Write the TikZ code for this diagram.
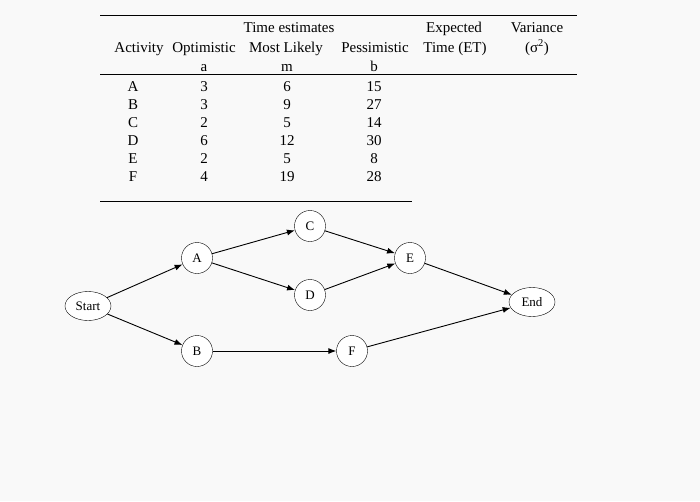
\documentclass[tikz,border=0pt]{standalone}
\usepackage{fontspec}
\setmainfont{Liberation Serif}
\usetikzlibrary{arrows.meta,shapes.geometric}
\begin{document}
\begin{tikzpicture}[x=1pt,y=-1pt,font=\fontsize{15}{17}\selectfont,
  t/.style={anchor=base,inner sep=0pt},
  circ/.style={circle,draw,fill=white,minimum size=31pt,inner sep=0pt,font=\fontsize{13}{15}\selectfont},
  ell/.style={ellipse,draw,fill=white,minimum width=46pt,minimum height=29pt,inner sep=1pt,font=\fontsize{13}{15}\selectfont},
  arr/.style={-{Latex[length=8pt,width=6pt]},line width=0.9pt},
  rule/.style={line width=0.8pt}]
\fill[white!95!gray] (0,0) rectangle (700,501);
\useasboundingbox (0,0) rectangle (700,501);
\draw[rule] (100,15) -- (577,15);
\draw[rule] (100,74) -- (577,74);
\draw[rule] (100,201) -- (412,201);
\node[t] (h1) at (289,32) {Time estimates};
\node[t] (h2) at (454,32) {Expected};
\node[t] (h3) at (537,32) {Variance};
\node[t] (h4) at (139,52) {Activity};
\node[t] (h5) at (204,52) {Optimistic};
\node[t] (h6) at (286,52) {Most Likely};
\node[t] (h7) at (375,52) {Pessimistic};
\node[t] (h8) at (455,52) {Time (ET)};
\node[t] (h9) at (537,52) {(σ\textsuperscript{2})};
\node[t] (sa) at (204,71) {a};
\node[t] (sm) at (287,71) {m};
\node[t] (sb) at (374,71) {b};
\foreach \n/\a/\m/\b [count=\i] in {A/3/6/15,B/3/9/27,C/2/5/14,D/6/12/30,E/2/5/8,F/4/19/28}{
  \node[t] (r\i) at (133,73+18*\i) {\n};
  \node[t] (ra\i) at (204,73+18*\i) {\a};
  \node[t] (rm\i) at (287,73+18*\i) {\m};
  \node[t] (rb\i) at (374,73+18*\i) {\b};
}
\node[ell] (S) at (88,306) {Start};
\node[circ] (A) at (197,258) {A};
\node[circ] (B) at (197,351) {B};
\node[circ] (C) at (310,226) {C};
\node[circ] (D) at (310,295) {D};
\node[circ] (E) at (410,258) {E};
\node[circ] (F) at (352,351) {F};
\node[ell] (End) at (532,302) {End};
\draw[arr] (S) -- (A);
\draw[arr] (S) -- (B);
\draw[arr] (A) -- (C);
\draw[arr] (A) -- (D);
\draw[arr] (C) -- (E);
\draw[arr] (D) -- (E);
\draw[arr] (E) -- (End);
\draw[arr] (B) -- (F);
\draw[arr] (F) -- (End);
\end{tikzpicture}
\end{document}
